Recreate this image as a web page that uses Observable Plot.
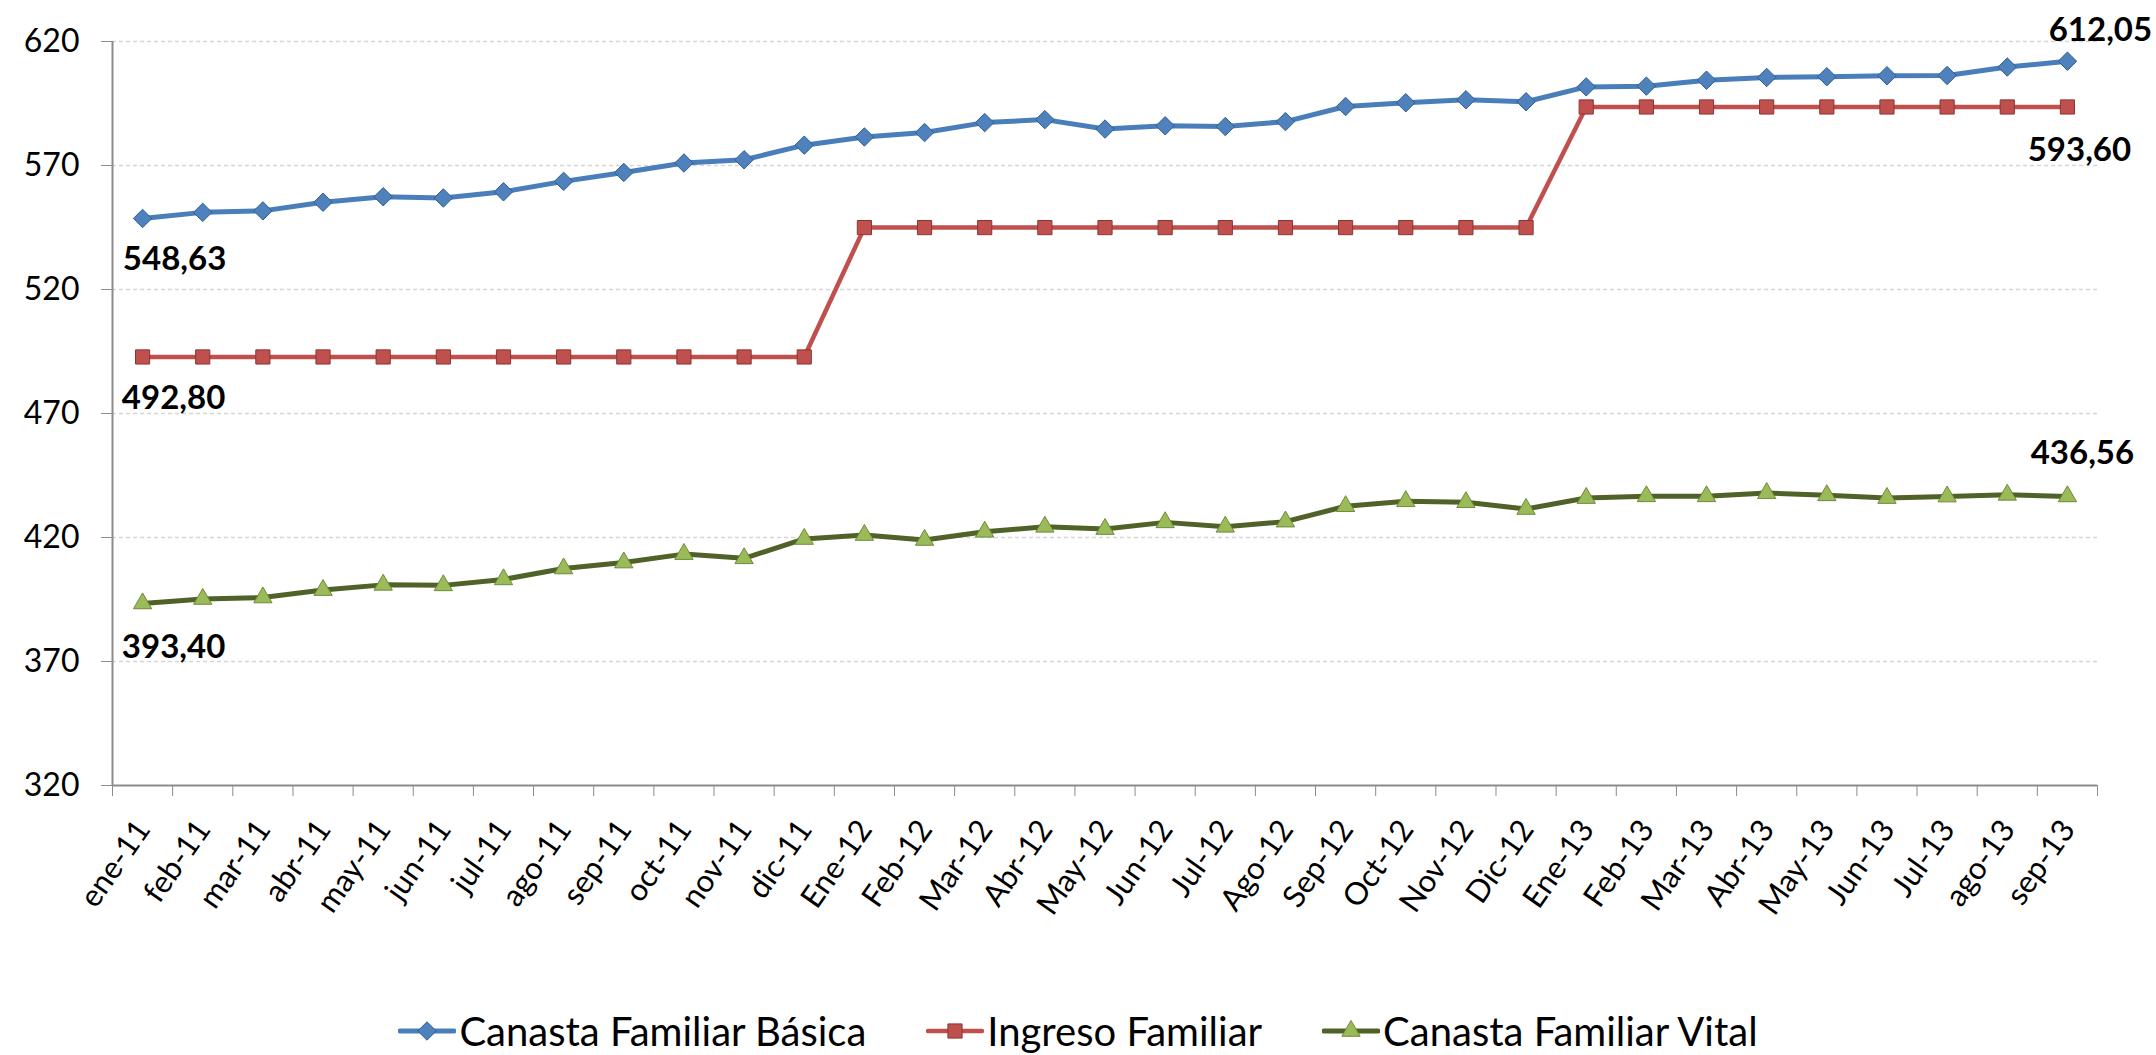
<!DOCTYPE html>
<html>
<head>
<meta charset="utf-8">
<script src="https://cdn.jsdelivr.net/npm/d3@7"></script>
<script src="https://cdn.jsdelivr.net/npm/@observablehq/plot@0.6"></script>
<style>
  body { margin: 0; background: #fff; font-family: Lato, "Open Sans", sans-serif; }
  #chart svg { display: block; overflow: visible; }
  #chart svg text { fill: #000; }
  #legend { display: flex; justify-content: center; align-items: center; height: 65px; padding-top: 8px; font-size: 40px; color: #000; white-space: nowrap; }
  .item { display: flex; align-items: center; margin: 0 30px; }
  .item svg { margin-right: 3px; }
</style>
</head>
<body>
<div id="chart"></div>
<div id="legend"></div>
<script>
// ---- data ----
const months = ["ene-11","feb-11","mar-11","abr-11","may-11","jun-11","jul-11","ago-11","sep-11","oct-11","nov-11","dic-11",
  "Ene-12","Feb-12","Mar-12","Abr-12","May-12","Jun-12","Jul-12","Ago-12","Sep-12","Oct-12","Nov-12","Dic-12",
  "Ene-13","Feb-13","Mar-13","Abr-13","May-13","Jun-13","Jul-13","ago-13","sep-13"];
const basica = [548.63,551.1,551.7,555.2,557.4,556.9,559.4,563.6,567.2,571.0,572.3,578.2,
  581.5,583.3,587.3,588.5,584.7,586.0,585.7,587.7,593.8,595.3,596.5,595.7,
  601.7,602.0,604.4,605.5,605.8,606.2,606.3,609.7,612.05];
const ingreso = [492.80,492.80,492.80,492.80,492.80,492.80,492.80,492.80,492.80,492.80,492.80,492.80,
  544.96,544.96,544.96,544.96,544.96,544.96,544.96,544.96,544.96,544.96,544.96,544.96,
  593.60,593.60,593.60,593.60,593.60,593.60,593.60,593.60,593.60];
const vital = [393.40,395.2,395.8,398.8,400.9,400.7,403.1,407.5,409.9,413.3,411.6,419.4,
  421.0,419.0,422.3,424.3,423.4,426.1,424.3,426.4,432.6,434.6,434.2,431.5,
  435.9,436.6,436.6,437.9,437.0,435.9,436.5,437.2,436.56];
const seriesNames = ["Canasta Familiar Básica","Ingreso Familiar","Canasta Familiar Vital"];
const yTicks = [320,370,420,470,520,570,620];

// ---- symbols ----
const diamondSym = {draw(ctx, size){ const r = Math.sqrt(size) * 0.62625; ctx.moveTo(0,-r); ctx.lineTo(r,0); ctx.lineTo(0,r); ctx.lineTo(-r,0); ctx.closePath(); }};
const squareSym = {draw(ctx, size){ const w = Math.sqrt(size), h = w/2; ctx.rect(-h,-h,w,w); }};
const triSym = {draw(ctx, size){ const y = -Math.sqrt(size/(Math.sqrt(3)*3)); ctx.moveTo(0,y*2); ctx.lineTo(-Math.sqrt(3)*y,-y); ctx.lineTo(Math.sqrt(3)*y,-y); ctx.closePath(); }};

const series = [
  {name: seriesNames[0], values: basica, line: "#4A7EBB", width: 5, sym: diamondSym, r: 8.3, fill: "#4F81BD", mstroke: "#2F5E8E"},
  {name: seriesNames[1], values: ingreso, line: "#C0504D", width: 4.5, sym: squareSym, r: 8.0, fill: "#C0504D", mstroke: "#8A3532"},
  {name: seriesNames[2], values: vital, line: "#4F6228", width: 5, sym: triSym, r: 6.8, fill: "#9BBB59", mstroke: "#6E8A3A"}
];

const fmt = v => d3.format(".2f")(v).replace(".", ",");
const n = months.length;
const idx = d3.range(n);
const bounds = d3.range(n + 1).map(i => i - 0.5);

const W = 2156, H = 990;
const marks = [
  Plot.ruleY(yTicks.filter(t => t > 320), {stroke: "#d6d6d6", strokeWidth: 1.5, strokeDasharray: "4,3"}),
  Plot.ruleX([-0.5], {stroke: "#8c8c8c", strokeWidth: 2}),
  Plot.ruleY([320], {stroke: "#8c8c8c", strokeWidth: 2}),
  Plot.text(idx, {x: d => d, text: d => months[d], frameAnchor: "bottom", rotate: -55, textAnchor: "end", lineAnchor: "bottom", dx: 9, dy: 44, fontSize: 31})
];
for (const s of series) {
  marks.push(Plot.line(s.values, {x: (d, i) => i, y: d => d, stroke: s.line, strokeWidth: s.width, strokeLinejoin: "round"}));
}
for (const s of series) {
  marks.push(Plot.dot(s.values, {x: (d, i) => i, y: d => d, symbol: s.sym, r: s.r, fill: s.fill, stroke: s.mstroke, strokeWidth: 1}));
}
// data labels (first and last value of each series)
const labelSpecs = [
  {s: basica, i: 0, dx: 32, dy: 41},
  {s: ingreso, i: 0, dx: 31, dy: 41},
  {s: vital, i: 0, dx: 31, dy: 44},
  {s: basica, i: n - 1, dx: 33, dy: -31},
  {s: ingreso, i: n - 1, dx: 12, dy: 43},
  {s: vital, i: n - 1, dx: 15, dy: -43}
];
for (const L of labelSpecs) {
  marks.push(Plot.text([L.i], {x: d => d, y: d => L.s[d], text: d => fmt(L.s[d]), dx: L.dx, dy: L.dy, fontSize: 33, fontWeight: "bold", textAnchor: "middle"}));
}

const chart = Plot.plot({
  width: W, height: H,
  marginLeft: 112, marginRight: 59, marginTop: 41, marginBottom: H - 785,
  style: {fontFamily: "Lato, 'Open Sans', sans-serif", fontSize: "32px", color: "#8c8c8c", background: "#fff"},
  x: {domain: [-0.5, n - 0.5], ticks: bounds, tickSize: 11, tickFormat: () => "", label: null},
  y: {domain: [320, 620], ticks: yTicks, tickSize: 11, tickPadding: 22, tickFormat: d3.format("d"), label: null},
  marks
});
document.getElementById("chart").appendChild(chart);

// legend
const legend = document.getElementById("legend");
for (const s of series) {
  const item = document.createElement("div");
  item.className = "item";
  const sw = d3.create("svg").attr("width", 58).attr("height", 24);
  sw.append("line").attr("x1", 2).attr("x2", 56).attr("y1", 12).attr("y2", 12).attr("stroke", s.line).attr("stroke-width", s.width).attr("stroke-linecap", "round");
  sw.append("path").attr("transform", "translate(29,12)").attr("d", d3.symbol(s.sym, Math.PI * s.r * s.r)()).attr("fill", s.fill).attr("stroke", s.mstroke);
  item.appendChild(sw.node());
  const t = document.createElement("span");
  t.textContent = s.name;
  item.appendChild(t);
  legend.appendChild(item);
}
</script>
</body>
</html>
